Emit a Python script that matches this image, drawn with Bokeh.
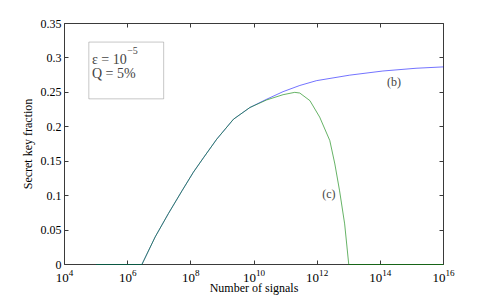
from bokeh.plotting import figure
from bokeh.models import (LogAxis, LinearAxis, FixedTicker, BoxAnnotation, Label, Range1d)
from bokeh.embed import file_html
from bokeh.resources import INLINE

# ---- data ----
# curve (b): log10(number of signals) and secret key fraction
b_exp = [5.0, 6.45, 6.87, 7.29, 7.72, 8.08, 8.40, 8.82, 9.35, 9.87, 10.40,
         10.92, 11.45, 11.98, 13.03, 14.08, 15.13, 16.0]
b_val = [0.0, 0.0, 0.040, 0.074, 0.107, 0.134, 0.155, 0.182, 0.211, 0.228,
         0.240, 0.251, 0.260, 0.267, 0.275, 0.281, 0.285, 0.287]
# curve (c)
c_exp = [5.0, 6.45, 6.87, 7.29, 7.72, 8.08, 8.40, 8.82, 9.35, 9.87, 10.40,
         10.92, 11.29, 11.45, 11.77, 12.08, 12.40, 12.56, 12.71, 12.87, 13.0, 16.0]
c_val = [0.0, 0.0, 0.040, 0.074, 0.107, 0.134, 0.155, 0.182, 0.211, 0.228,
         0.239, 0.2466, 0.250, 0.249, 0.238, 0.214, 0.180, 0.146, 0.107, 0.059,
         0.0, 0.0]
x_tick_exp = [4, 6, 8, 10, 12, 14, 16]
y_ticks = [0, 0.05, 0.1, 0.15, 0.2, 0.25, 0.3, 0.35]

b_n = [10.0 ** e for e in b_exp]
c_n = [10.0 ** e for e in c_exp]
x_ticks = [10.0 ** e for e in x_tick_exp]

FONT = "Liberation Serif"
AX = "#3a3a3a"

p = figure(frame_width=379, frame_height=241, x_axis_type="log",
           x_range=Range1d(1e4, 1e16), y_range=Range1d(0, 0.35),
           output_backend="svg", toolbar_location=None,
           min_border_left=64, min_border_top=23, min_border_right=40,
           min_border_bottom=0)
p.grid.visible = False
p.outline_line_color = None
p.background_fill_color = "white"
p.border_fill_color = "white"

def style(ax):
    ax.axis_line_color = AX
    ax.major_tick_line_color = AX
    ax.major_tick_in = 4
    ax.major_tick_out = 0
    ax.minor_tick_line_color = None
    ax.major_label_text_font = FONT
    ax.major_label_text_color = "black"
    ax.major_label_text_font_size = "12px"
    ax.axis_label_text_font = FONT
    ax.axis_label_text_font_style = "normal"
    ax.axis_label_text_font_size = "12px"
    ax.axis_label_text_color = "black"

xa = p.xaxis[0]
xa.ticker = FixedTicker(ticks=x_ticks)
xa.axis_label = "Number of signals"
style(xa)
xa.major_label_text_font_size = "13px"
xa.major_label_standoff = 5
xa.axis_label_standoff = -4

ya = p.yaxis[0]
ya.ticker = FixedTicker(ticks=y_ticks)
ya.axis_label = "Secret key fraction"
style(ya)
ya.major_label_standoff = 3
ya.axis_label_standoff = 3

top = LogAxis(ticker=FixedTicker(ticks=x_ticks))
style(top)
top.major_label_text_font_size = "1px"
top.major_label_text_alpha = 0
top.major_label_standoff = 0
p.add_layout(top, "above")
right = LinearAxis(ticker=FixedTicker(ticks=y_ticks))
style(right)
right.major_label_text_font_size = "1px"
right.major_label_text_alpha = 0
right.major_label_standoff = 0
p.add_layout(right, "right")

p.line(b_n, b_val, line_color="#0000ff", line_alpha=0.55, line_width=1, level="overlay")
p.line(c_n, c_val, line_color="#008000", line_alpha=0.6, line_width=1, level="overlay")

p.add_layout(BoxAnnotation(left=10 ** 4.77, right=10 ** 7.14, bottom=0.2406, top=0.323,
                           fill_color="white", fill_alpha=1.0,
                           line_color="#444444", line_width=1, level="overlay"))
p.add_layout(Label(x=10 ** 4.87, y=0.2977, text="ε = 10", text_font=FONT,
                   text_font_size="14px", text_baseline="alphabetic", level="overlay"))
p.add_layout(Label(x=10 ** 5.985, y=0.3115, text="−5", text_font=FONT,
                   text_font_size="10px", text_baseline="alphabetic", level="overlay"))
p.add_layout(Label(x=10 ** 4.87, y=0.277, text="Q = 5%", text_font=FONT,
                   text_font_size="14px", text_baseline="alphabetic", level="overlay"))
p.add_layout(Label(x=10 ** 14.43, y=0.2647, text="(b)", text_font=FONT,
                   text_font_size="12px", text_align="center", text_baseline="middle"))
p.add_layout(Label(x=10 ** 12.37, y=0.1027, text="(c)", text_font=FONT,
                   text_font_size="12px", text_align="center", text_baseline="middle"))

open("out.html", "w").write(file_html(p, INLINE))
